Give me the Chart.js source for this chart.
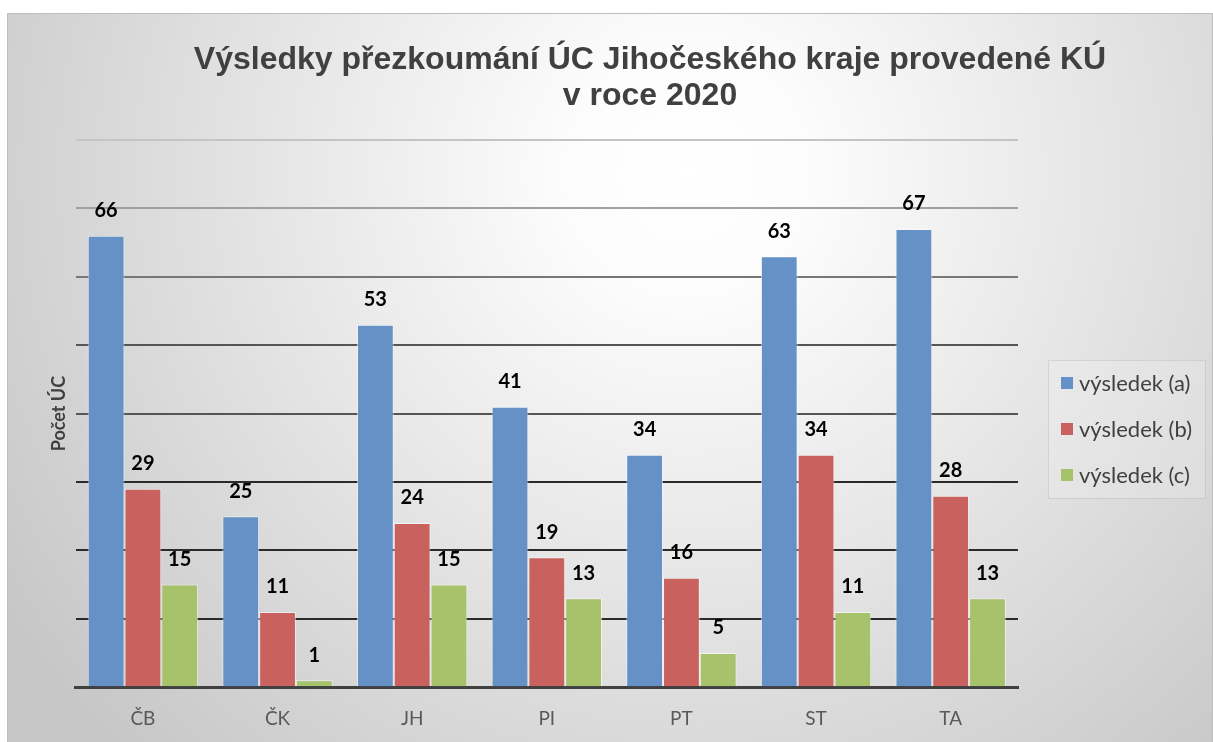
<!DOCTYPE html>
<html>
<head>
<meta charset="utf-8">
<script src="https://cdn.jsdelivr.net/npm/chart.js@4/dist/chart.umd.min.js"></script>
<style>
  html, body { margin: 0; padding: 0; background: #fff; overflow: hidden; }
  #wrap { position: absolute; left: 7px; top: 13px; width: 1206px; height: 737px; }
</style>
</head>
<body>
<div id="wrap"><canvas id="chart"></canvas></div>
<script>
// data
const categories = ['ČB', 'ČK', 'JH', 'PI', 'PT', 'ST', 'TA'];
const seriesNames = ['výsledek (a)', 'výsledek (b)', 'výsledek (c)'];
const vysledekA = [66, 25, 53, 41, 34, 63, 67];
const vysledekB = [29, 11, 24, 19, 16, 34, 28];
const vysledekC = [15, 1, 15, 13, 5, 11, 13];
const colors = ['#6591c7', '#c9625f', '#a6c26b'];
const titleLines = ['Výsledky přezkoumání ÚC Jihočeského kraje provedené KÚ', 'v roce 2020'];
const yTitle = 'Počet ÚC';

const sansFont = 'Lato, "Open Sans", sans-serif';

// pozadí s gradientem
const backgroundPlugin = {
    id: 'bg',
    beforeDraw(chart) {
        const ctx = chart.ctx;
        const w = chart.width, h = chart.height;
        const g = ctx.createRadialGradient(680, 160, 0, 680, 160, 820);
        g.addColorStop(0, '#ffffff');
        g.addColorStop(0.15, '#fcfcfc');
        g.addColorStop(1, '#c6c6c6');
        ctx.save();
        ctx.fillStyle = g;
        ctx.fillRect(0, 0, w, h);
        ctx.strokeStyle = '#bdbdbd';
        ctx.lineWidth = 1;
        ctx.strokeRect(0.5, 0.5, w - 1, h + 2);
        ctx.restore();
    }
};

// nadpis
const titlePlugin = {
    id: 'customTitle',
    afterDraw(chart) {
        const ctx = chart.ctx;
        ctx.save();
        ctx.fillStyle = '#404040';
        ctx.font = 'bold 32px "Liberation Sans", Arial, sans-serif';
        ctx.textAlign = 'center';
        ctx.textBaseline = 'middle';
        ctx.fillText(titleLines[0], 643, 47);
        ctx.fillText(titleLines[1], 643, 83);
        ctx.restore();
    }
};

// popisky hodnot nad sloupci
const valueLabels = {
    id: 'valueLabels',
    afterDatasetsDraw(chart) {
        const ctx = chart.ctx;
        ctx.save();
        ctx.fillStyle = '#000';
        ctx.font = 'bold 20px ' + sansFont;
        ctx.textAlign = 'center';
        ctx.textBaseline = 'middle';
        chart.data.datasets.forEach((ds, i) => {
            chart.getDatasetMeta(i).data.forEach((bar, j) => {
                ctx.fillText(ds.data[j], bar.x, bar.y - 25);
            });
        });
        ctx.restore();
    }
};

// legenda vpravo
const sideLegend = {
    id: 'sideLegend',
    afterDraw(chart) {
        const ctx = chart.ctx;
        const x0 = 1041, y0 = 347;
        ctx.save();
        ctx.fillStyle = 'rgba(255,255,255,0.18)';
        ctx.fillRect(x0, y0, 157, 138);
        ctx.strokeStyle = 'rgba(190,190,190,0.5)';
        ctx.strokeRect(x0 + 0.5, y0 + 0.5, 157, 138);
        ctx.font = '22px ' + sansFont;
        ctx.textBaseline = 'middle';
        chart.data.datasets.forEach((ds, i) => {
            const y = y0 + 23 + i * 46;
            ctx.fillStyle = ds.backgroundColor;
            ctx.fillRect(x0 + 13, y - 6, 12, 12);
            ctx.fillStyle = '#404040';
            ctx.fillText(ds.label, x0 + 31, y + 1);
        });
        ctx.restore();
    }
};

function gridColor(ctx) {
    const v = ctx.tick ? ctx.tick.value : 0;
    if (v >= 80) return '#c4c4c4';
    if (v >= 70) return '#a0a0a0';
    if (v >= 60) return '#777777';
    if (v >= 40) return '#555555';
    return '#2a2a2a';
}

function initChart() {
    const ctx = document.getElementById('chart').getContext('2d');
    window.myChart = new Chart(ctx, {
        type: 'bar',
        data: {
            labels: categories,
            datasets: [
                { label: seriesNames[0], data: vysledekA, backgroundColor: colors[0] },
                { label: seriesNames[1], data: vysledekB, backgroundColor: colors[1] },
                { label: seriesNames[2], data: vysledekC, backgroundColor: colors[2] }
            ].map(d => Object.assign(d, {
                borderColor: 'rgba(255,255,255,0.55)',
                borderWidth: 1,
                categoryPercentage: 0.82,
                barPercentage: 1
            }))
        },
        options: {
            responsive: true,
            maintainAspectRatio: false,
            animation: false,
            layout: { padding: { top: 127, left: 41, right: 195, bottom: 0 } },
            plugins: {
                legend: { display: false },
                title: { display: false },
                tooltip: { enabled: false }
            },
            scales: {
                x: {
                    grid: { display: false, drawTicks: false },
                    border: { color: '#404040', width: 3 },
                    ticks: { color: '#595959', font: { size: 19, family: sansFont }, padding: 20 }
                },
                y: {
                    min: 0,
                    max: 80,
                    ticks: { display: false, stepSize: 10 },
                    border: { display: false },
                    grid: { color: gridColor, lineWidth: 2, drawTicks: false },
                    title: {
                        display: true,
                        text: yTitle,
                        color: '#404040',
                        font: { size: 18, weight: 'bold', family: sansFont },
                        padding: { top: 0, bottom: 6 }
                    }
                }
            }
        },
        plugins: [backgroundPlugin, titlePlugin, valueLabels, sideLegend]
    });
}

window.onload = () => {
    initChart();
};
</script>
</body>
</html>
